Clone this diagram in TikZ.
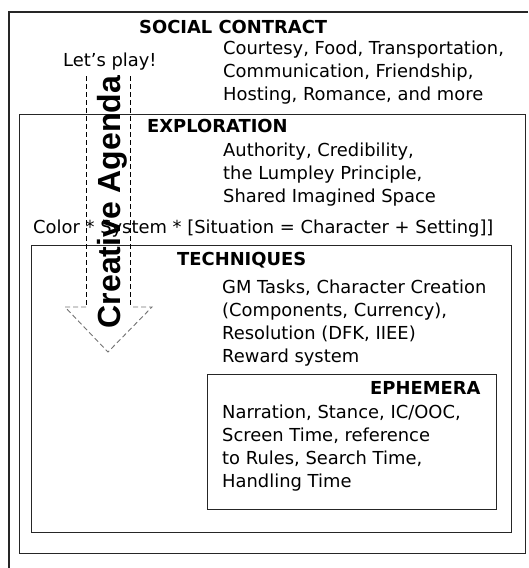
\documentclass[tikz,border=0pt]{standalone}
\usepackage{fontspec}
\setmainfont{DejaVu Sans}
\newfontfamily\agendafont{Liberation Sans}
\begin{document}
\begin{tikzpicture}[x=1pt,y=-1pt,
  frame/.style={draw=black!85,line width=1.1pt,inner sep=0pt,anchor=north west},
  body/.style={anchor=base west,inner sep=0pt,align=left,font=\fontsize{17.9}{23}\selectfont},
  head/.style={anchor=base west,inner sep=0pt,font=\fontsize{17.9}{23}\selectfont\bfseries},
  shaft/.style={draw=black,line width=0.9pt,dash pattern=on 5pt off 3pt},
  tipline/.style={draw=black!55,line width=0.9pt,dash pattern=on 5pt off 3pt}]
\useasboundingbox (0,0) rectangle (528,568);
% social contract (open to the right and bottom)
\coordinate (scR) at (528,12);
\coordinate (scTL) at (9,12);
\coordinate (scB) at (9,568);
\draw[black!85,line width=1.1pt] (scR) -- (scTL) -- (scB);
% nested boxes
\node[frame,minimum width=506pt,minimum height=439pt] (explo) at (19,114) {};
\node[frame,minimum width=480pt,minimum height=287pt] (tech) at (31,245) {};
\node[frame,minimum width=289pt,minimum height=135pt] (ephem) at (207,374) {};
% headers
\node[head] (schead) at (139,33) {SOCIAL CONTRACT};
\node[head] (exhead) at (147,132) {EXPLORATION};
\node[head] (tehead) at (177,265) {TECHNIQUES};
\node[head] (ephead) at (370,394) {EPHEMERA};
% body texts (base anchor = baseline of the last line)
\node[body] (sctext) at (223,100) {Courtesy, Food, Transportation,\\Communication, Friendship,\\Hosting, Romance, and more};
\node[body] (extext) at (223,202) {Authority, Credibility,\\the Lumpley Principle,\\Shared Imagined Space};
\node[body] (formula) at (33,233) {Color * System * [Situation = Character + Setting]]};
\node[body] (tetext) at (222,362) {GM Tasks, Character Creation\\(Components, Currency),\\Resolution (DFK, IIEE)\\Reward system};
\node[body] (eptext) at (222,487) {Narration, Stance, IC/OOC,\\Screen Time, reference\\to Rules, Search Time,\\Handling Time};
\node[body] (play) at (63,66) {Let's play!};
% creative agenda arrow
\coordinate (sl1) at (86,76);
\coordinate (sl2) at (86,307);
\coordinate (sr1) at (130,76);
\coordinate (sr2) at (130,307);
\coordinate (wl) at (65,307);
\coordinate (wr) at (152,307);
\coordinate (tip) at (108,352);
\draw[shaft] (sl1) -- (sl2);
\draw[shaft] (sr1) -- (sr2);
\draw[tipline] (sl2) -- (wl) -- (tip) -- (wr) -- (sr2);
\node[rotate=90,anchor=base,inner sep=0pt,font=\agendafont\fontsize{32}{36}\selectfont\bfseries] (agenda) at (120,202) {Creative Agenda};
\end{tikzpicture}
\end{document}
